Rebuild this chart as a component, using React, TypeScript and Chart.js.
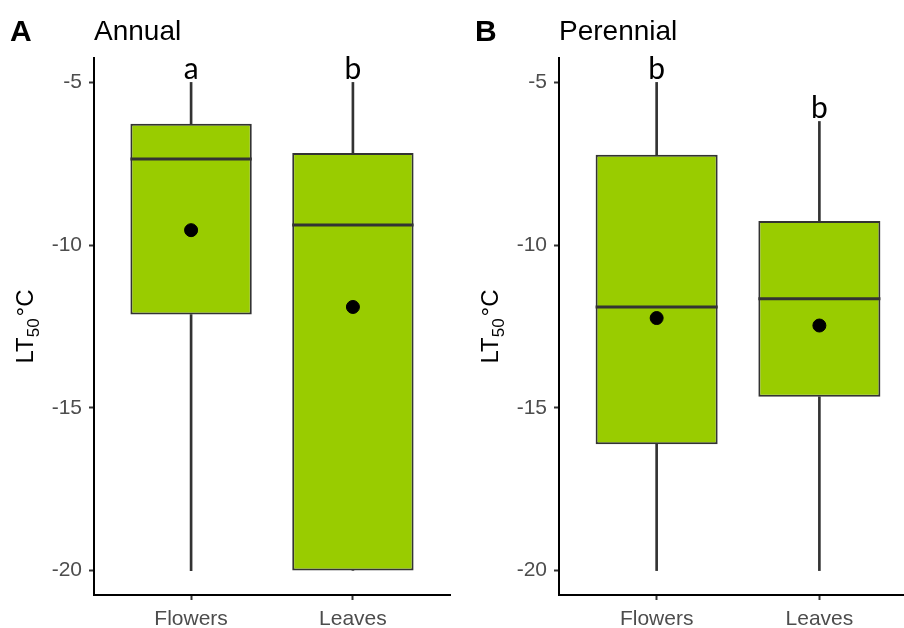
import React, { useEffect, useRef } from 'react';
import { Chart, registerables } from 'chart.js';

Chart.register(...registerables);

// ---------- data ----------
const categories = ['Flowers', 'Leaves'];
const categoryPositions = [1, 2];
const yTicks = [-20, -15, -10, -5];

const annualMin = [-20, -20];
const annualQ1 = [-12.13, -20];
const annualMedian = [-7.35, -9.38];
const annualQ3 = [-6.27, -7.17];
const annualMax = [-5, -5];
const annualMean = [-9.54, -11.9];
const annualLetters = ['a', 'b'];

const perennialMin = [-20, -20];
const perennialQ1 = [-16.12, -14.66];
const perennialMedian = [-11.9, -11.65];
const perennialQ3 = [-7.22, -9.26];
const perennialMax = [-5, -6.2];
const perennialMean = [-12.24, -12.47];
const perennialLetters = ['b', 'b'];

const BOX_FILL = '#99CC00';
const LINE = '#333333';
const SANS = '"Liberation Sans", Arial, sans-serif';

type PanelProps = {
  left: number;
  width: number;
  xMax: number;
  padRight: number;
  tag: string;
  title: string;
  mins: number[];
  q1s: number[];
  medians: number[];
  q3s: number[];
  maxs: number[];
  means: number[];
  letters: string[];
};

function Panel(p: PanelProps) {
  const ref = useRef<HTMLCanvasElement | null>(null);

  useEffect(() => {
    if (!ref.current) return;

    const boxplotPlugin = {
      id: 'boxDecor',
      afterDatasetDraw(chart: any, args: any) {
        if (args.index !== 2) return;
        const ctx = chart.ctx;
        const yScale = chart.scales.y;
        ctx.save();
        ctx.strokeStyle = LINE;
        ctx.lineWidth = 3;
        args.meta.data.forEach((el: any, i: number) => {
          const y = yScale.getPixelForValue(p.medians[i]);
          ctx.beginPath();
          ctx.moveTo(el.x - el.width / 2, y);
          ctx.lineTo(el.x + el.width / 2, y);
          ctx.stroke();
        });
        ctx.restore();
      },
      afterDatasetsDraw(chart: any) {
        const ctx = chart.ctx;
        const xScale = chart.scales.x;
        const yScale = chart.scales.y;
        ctx.save();
        ctx.fillStyle = '#000';
        ctx.font = '30px Lato, "Open Sans", sans-serif';
        ctx.textAlign = 'center';
        ctx.textBaseline = 'alphabetic';
        p.letters.forEach((t, i) => {
          const x = xScale.getPixelForValue(categoryPositions[i]);
          const y = yScale.getPixelForValue(p.maxs[i]) - 3;
          ctx.fillText(t, x, y);
        });
        ctx.restore();
      },
      afterDraw(chart: any) {
        const ctx = chart.ctx;
        const area = chart.chartArea;
        ctx.save();
        ctx.fillStyle = '#000';
        ctx.textBaseline = 'alphabetic';
        ctx.textAlign = 'left';
        ctx.font = `bold 30px ${SANS}`;
        ctx.fillText(p.tag, 10, 40.5);
        ctx.font = `28px ${SANS}`;
        ctx.fillText(p.title, area.left, 39.5);

        // y-axis title LT50°C with subscript
        const big = `24px ${SANS}`;
        const small = `17px ${SANS}`;
        ctx.font = big;
        const w1 = ctx.measureText('LT').width;
        const w3 = ctx.measureText('\u00B0C').width;
        ctx.font = small;
        const w2 = ctx.measureText('50').width;
        const total = w1 + w2 + 2 + w3;
        const cy = (area.top + area.bottom) / 2;
        ctx.translate(33, cy);
        ctx.rotate(-Math.PI / 2);
        let x0 = -total / 2;
        ctx.font = big;
        ctx.fillText('LT', x0, 0);
        x0 += w1;
        ctx.font = small;
        ctx.fillText('50', x0, 6);
        x0 += w2 + 2;
        ctx.font = big;
        ctx.fillText('\u00B0C', x0, 0);
        ctx.restore();
      },
    };

    const chart = new Chart(ref.current, {
      type: 'bar',
      data: {
        datasets: [
          {
            type: 'scatter',
            order: 0,
            data: categoryPositions.map((x, i) => ({ x, y: p.means[i] })),
            pointRadius: 6.5,
            pointBackgroundColor: '#000',
            pointBorderColor: '#000',
            pointBorderWidth: 1,
            clip: false,
          } as any,
          {
            order: 2,
            data: categoryPositions.map((x, i) => ({ x, y: [p.mins[i], p.q1s[i]] })),
            backgroundColor: LINE,
            borderWidth: 0,
            barThickness: 2,
            grouped: false,
          } as any,
          {
            order: 1,
            data: categoryPositions.map((x, i) => ({ x, y: [p.q1s[i], p.q3s[i]] })),
            backgroundColor: BOX_FILL,
            borderColor: LINE,
            borderWidth: 2,
            borderSkipped: false,
            barPercentage: 0.75,
            categoryPercentage: 1,
            grouped: false,
          } as any,
          {
            order: 3,
            data: categoryPositions.map((x, i) => ({ x, y: [p.q3s[i], p.maxs[i]] })),
            backgroundColor: LINE,
            borderWidth: 0,
            barThickness: 2,
            grouped: false,
          } as any,
        ],
      },
      options: {
        animation: false,
        responsive: false,
        events: [],
        layout: { autoPadding: false, padding: { top: 58, left: 0, right: p.padRight, bottom: 0 } },
        plugins: { legend: { display: false }, tooltip: { enabled: false }, title: { display: false } },
        scales: {
          x: {
            type: 'linear',
            min: 0.4,
            max: p.xMax,
            offset: false,
            afterBuildTicks: (scale: any) => {
              scale.ticks = categoryPositions.map((v) => ({ value: v }));
            },
            afterFit: (scale: any) => {
              scale.height = 33;
              scale.paddingLeft = 0;
              scale.paddingRight = 0;
            },
            ticks: {
              callback: (_v: any, i: number) => categories[i],
              color: '#4D4D4D',
              font: { family: SANS, size: 21 },
              padding: 7,
              maxRotation: 0,
              autoSkip: false,
            },
            grid: {
              display: true,
              drawOnChartArea: false,
              drawTicks: true,
              tickLength: 5,
              tickColor: LINE,
              tickWidth: 2,
              offset: false,
            },
            border: { display: true, color: '#000', width: 2 },
          },
          y: {
            type: 'linear',
            min: -20.75,
            max: -4.25,
            afterBuildTicks: (scale: any) => {
              scale.ticks = yTicks.map((v) => ({ value: v }));
            },
            afterFit: (scale: any) => {
              scale.width = 94;
              scale.paddingTop = 0;
              scale.paddingBottom = 0;
            },
            ticks: {
              callback: (v: any) => String(v),
              color: '#4D4D4D',
              font: { family: SANS, size: 21 },
              padding: 7,
            },
            grid: {
              display: true,
              drawOnChartArea: false,
              drawTicks: true,
              tickLength: 5,
              tickColor: LINE,
              tickWidth: 2,
            },
            border: { display: true, color: '#000', width: 2 },
          },
        },
      } as any,
      plugins: [boxplotPlugin as any],
    });

    return () => chart.destroy();
  }, []);

  return (
    <canvas
      ref={ref}
      width={p.width}
      height={628}
      style={{ position: 'absolute', left: p.left, top: 0, width: p.width, height: 628 }}
    />
  );
}

export default function App() {
  return (
    <div style={{ position: 'fixed', left: 0, top: 0, width: 904, height: 628, background: '#fff', overflow: 'hidden' }}>
      <Panel
        left={0}
        width={465}
        xMax={2.6}
        padRight={15}
        tag="A"
        title="Annual"
        mins={annualMin}
        q1s={annualQ1}
        medians={annualMedian}
        q3s={annualQ3}
        maxs={annualMax}
        means={annualMean}
        letters={annualLetters}
      />
      <Panel
        left={465}
        width={439}
        xMax={2.52}
        padRight={0}
        tag="B"
        title="Perennial"
        mins={perennialMin}
        q1s={perennialQ1}
        medians={perennialMedian}
        q3s={perennialQ3}
        maxs={perennialMax}
        means={perennialMean}
        letters={perennialLetters}
      />
    </div>
  );
}
